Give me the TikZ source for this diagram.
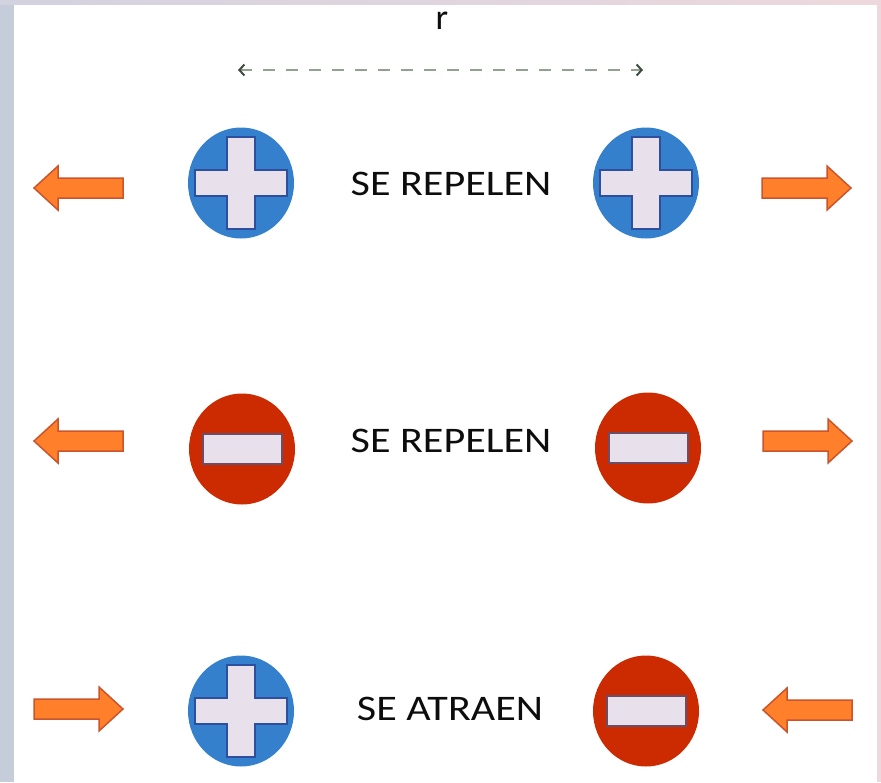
\documentclass[tikz,border=0pt]{standalone}
\usepackage{fontspec}
\newfontfamily\lblfont{Carlito}
\usetikzlibrary{shapes.geometric,arrows.meta}
\definecolor{chargeblue}{HTML}{3580CC}
\definecolor{chargered}{HTML}{CC2A00}
\definecolor{crossedge}{HTML}{2E4F9E}
\definecolor{minusedge}{HTML}{6A4E68}
\definecolor{signfill}{HTML}{E8E0EA}
\definecolor{arrowfill}{HTML}{FF7F2A}
\definecolor{arrowedge}{HTML}{C9552C}
\definecolor{dimgray}{HTML}{93A193}
\definecolor{dimtip}{HTML}{3E4C40}
\definecolor{leftframe}{HTML}{C6CDDA}
\definecolor{topframe}{HTML}{D3D2DF}
\definecolor{rightframe}{HTML}{EDD8DD}
\begin{document}
\begin{tikzpicture}[x=1pt,y=-1pt,
  poscharge/.style={ellipse, fill=chargeblue, minimum width=106pt, minimum height=111pt, inner sep=0pt},
  negcharge/.style={ellipse, fill=chargered, minimum width=106pt, minimum height=111pt, inner sep=0pt},
  labeltext/.style={font=\lblfont\fontsize{36}{40}\selectfont, text=black!95, xscale=1.17, inner sep=0pt},
  pics/plussign/.style={code={
    \filldraw[fill=signfill, draw=crossedge, line width=2pt, line join=miter]
      (-14,-46) -- (14,-46) -- (14,-13) -- (46,-13) -- (46,13) -- (14,13) -- (14,46)
      -- (-14,46) -- (-14,13) -- (-46,13) -- (-46,-13) -- (-14,-13) -- cycle;}},
  pics/minussign/.style={code={
    \filldraw[fill=signfill, draw=minusedge, line width=2pt]
      (-39.5,-15) rectangle (39.5,15);}},
  pics/bigarrow/.style={code={
    \filldraw[fill=arrowfill, draw=arrowedge, line width=1.5pt, line join=miter]
      (0,-10) -- (65,-10) -- (65,-22) -- (89,0) -- (65,22) -- (65,10) -- (0,10) -- cycle;}}
]
\useasboundingbox (0,0) rectangle (881,782);
% frame
\fill[leftframe] (0,0) rectangle (14,782);
\shade[left color=topframe, right color=rightframe] (0,0) rectangle (881,4);
\fill[rightframe] (877,0) rectangle (881,782);

% distance marker
\node[font=\lblfont\fontsize{36}{40}\selectfont, text=black!95, inner sep=0pt] (rlabel) at (442,21) {r};
\coordinate (dimL) at (238,70);
\coordinate (dimR) at (643,70);
\draw[dimgray, line width=2.6pt, dash pattern=on 12pt off 11pt,
  {Straight Barb[length=5pt,width=11pt,line width=2pt,color=dimtip]}-{Straight Barb[length=5pt,width=11pt,line width=2pt,color=dimtip]}]
  (dimL) -- (dimR);

% row 1
\node[poscharge] (c1L) at (241,183) {};
\node[poscharge] (c1R) at (646,183) {};
\pic at (c1L) {plussign};
\pic at (c1R) {plussign};
\node[labeltext] (t1) at (451,184) {SE REPELEN};
\pic[rotate=180] at (123,188) {bigarrow};
\pic at (762,188) {bigarrow};

% row 2
\node[negcharge] (c2L) at (242,449) {};
\node[negcharge] (c2R) at (648,448) {};
\pic at (c2L) {minussign};
\pic at (c2R) {minussign};
\node[labeltext] (t2) at (451,441) {SE REPELEN};
\pic[rotate=180] at (123,441) {bigarrow};
\pic at (763,441) {bigarrow};

% row 3
\node[poscharge] (c3L) at (241,711) {};
\node[negcharge] (c3R) at (646,711) {};
\pic at (c3L) {plussign};
\pic at (c3R) {minussign};
\node[labeltext] (t3) at (450,709) {SE ATRAEN};
\pic at (34,709) {bigarrow};
\pic[rotate=180] at (852,710) {bigarrow};
\end{tikzpicture}
\end{document}
